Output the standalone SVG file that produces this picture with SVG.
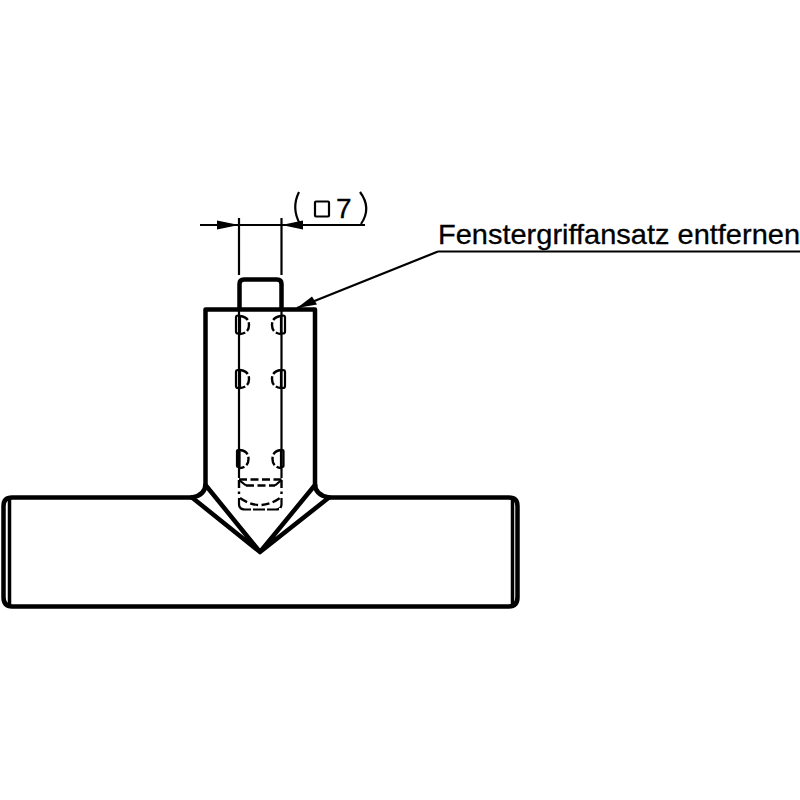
<svg xmlns="http://www.w3.org/2000/svg" width="800" height="800" viewBox="0 0 800 800">
<style>
.h{fill:none;stroke:#000;stroke-width:4.500;stroke-linejoin:round;stroke-linecap:round}
.t{fill:none;stroke:#000;stroke-width:2.200}
.a{fill:none;stroke:#000;stroke-width:2.400;stroke-dasharray:9 2.500}
.d{fill:none;stroke:#000;stroke-width:2.400;stroke-dasharray:8 3.500}
.n{font-family:"Liberation Sans",Arial,sans-serif;fill:#000;stroke:#000;stroke-width:.3}
</style>
<rect width="800" height="800" fill="#fff"/>
<g id="part-body">
<path class="h" d="M192 497.500H12Q3.500 497.500 3.500 506V597Q3.500 606.500 12 606.500H509Q517.500 606.500 517.500 597V506Q517.500 497.500 509 497.500H329"/>
<path class="t" style="stroke-width:3.500" d="M9.500 499V605M512.500 499V605"/>
<path class="h" d="M192 497.500Q205.500 495 205.500 484V309.500H315V484Q315 495 329 497.500"/>
<path class="h" d="M192 497.500L260 552L329 497.500M205.500 485L260 552L315 485"/>
<path class="h" d="M239.500 309V284Q239.500 279.500 244 279.500H277Q281.500 279.500 281.500 284V309"/>
</g>
<g id="hidden-details">
<path class="t" d="M239 309V478M281.500 309V478"/>
<g id="notches">
<path class="a" d="M240 316Q249 317 249 325Q249 333 240 334M281 316Q272 317 272 325Q272 333 281 334"/>
<rect x="236" y="315.500" width="4" height="18" rx="2" class="t"/>
<rect x="281" y="315.500" width="4" height="18" rx="2" class="t"/>
<path class="a" d="M240 370Q249 371 249 379Q249 387 240 388M281 370Q272 371 272 379Q272 387 281 388"/>
<rect x="236" y="370" width="4" height="18" rx="2" class="t"/>
<rect x="281" y="370" width="4" height="18" rx="2" class="t"/>
<path class="a" d="M240 450Q248.500 451 248.500 459Q248.500 467 240 468M281 450Q272.500 451 272.500 459Q272.500 467 281 468"/>
<rect x="237" y="450" width="2.500" height="17" rx="1" class="t"/>
<rect x="281" y="450" width="2.500" height="17" rx="1" class="t"/>
</g>
<path class="d" d="M239 479.500H281.500M246 485.500H275"/>
<path class="t" d="M239 480L246 485.500M281.500 480L275 485.500"/>
<path class="d" d="M239 480V494M281.500 480V494"/>
<path class="t" d="M239 498V504Q239 509.500 245 509.500H276Q281.500 509.500 281.500 504V498"/>
<path d="M239 509.500H281.500" fill="none" stroke="#fff" stroke-width="3" stroke-dasharray="2 12" stroke-dashoffset="-12"/>
<path class="d" d="M240 498Q260 512 280 498"/>
</g>
<g id="connectors">
<path class="t" d="M200 225H365M239 218V275M281.500 218V275"/>
<path d="M217 220.500L239 225L217 229.500Z" fill="#000"/>
<path d="M303 220.500L281.500 225L303 229.500Z" fill="#000"/>
<path class="t" d="M438 251.500H800M438 251.500L297 308"/>
<path d="M297 308L312 296.500L317 304.500Z" fill="#000"/>
</g>
<g id="labels">
<text class="n" x="438" y="244" font-size="28" textLength="362" lengthAdjust="spacingAndGlyphs">Fenstergriffansatz entfernen</text>
<rect x="315" y="201.500" width="14" height="15" rx="1" fill="none" stroke="#000" stroke-width="2.200"/>
<text class="n" x="336" y="218" font-size="28">7</text>
<path class="t" d="M299 192Q291 208 300 224M360 192Q372 208 361 224"/>
</g>
</svg>
